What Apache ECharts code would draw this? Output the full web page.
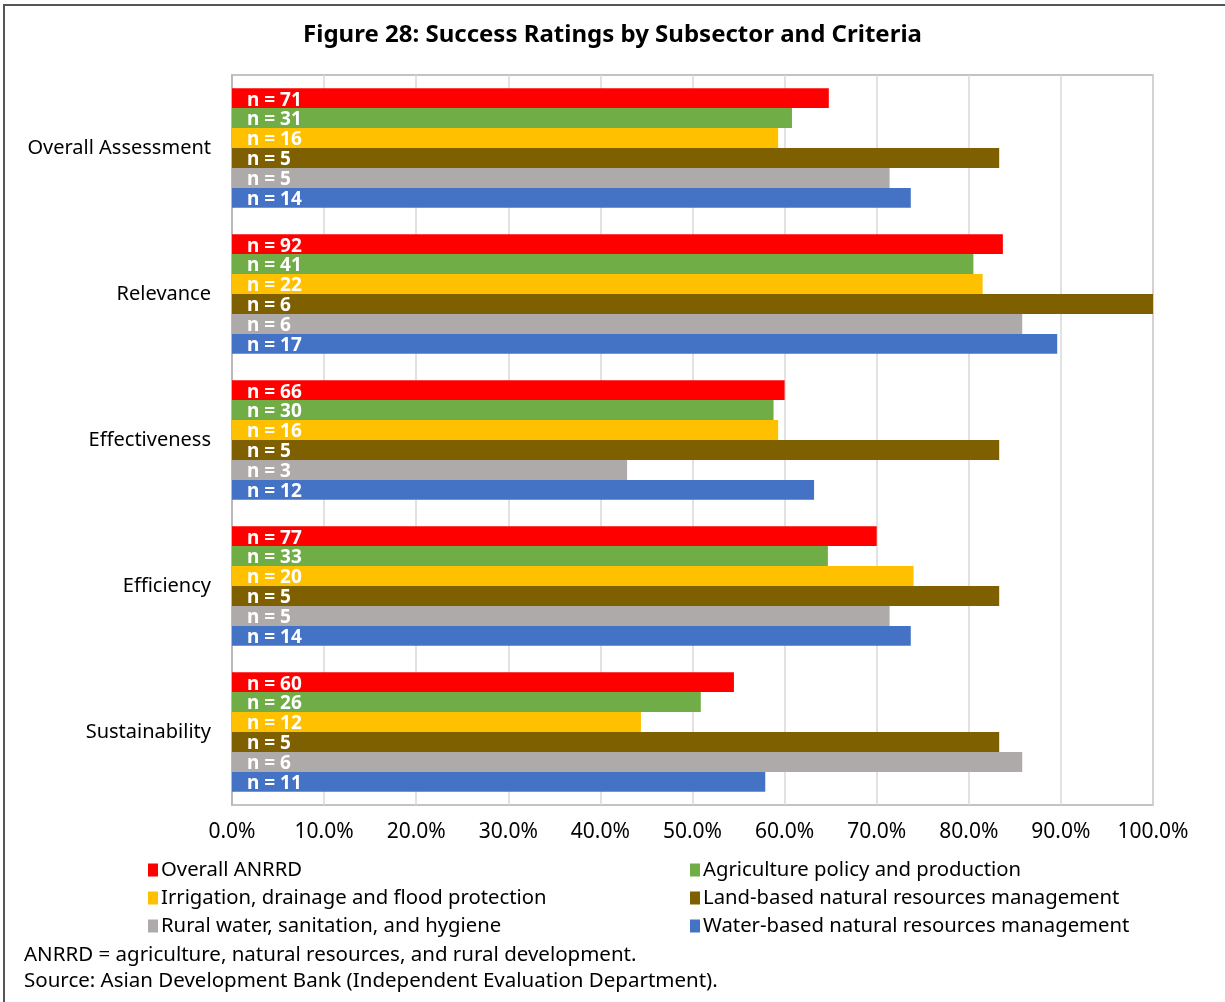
<!DOCTYPE html>
<html>
<head>
<meta charset="utf-8">
<script src="https://cdn.jsdelivr.net/npm/echarts@6/dist/echarts.min.js"></script>
<style>
  html, body { margin: 0; padding: 0; background: #fff; }
  #frame { position: absolute; left: 3px; top: 4px; width: 1222px; height: 998px;
           border-top: 2px solid #555; border-left: 2px solid #555; box-sizing: border-box; }
  #chart { position: absolute; left: 0; top: 0; width: 1225px; height: 1002px; }
</style>
</head>
<body>
<div id="frame"></div>
<div id="chart"></div>
<script>
// criteria (y axis, top to bottom)
const criteria = ["Overall Assessment", "Relevance", "Effectiveness", "Efficiency", "Sustainability"];

const seriesNames = [
  "Overall ANRRD",
  "Agriculture policy and production",
  "Irrigation, drainage and flood protection",
  "Land-based natural resources management",
  "Rural water, sanitation, and hygiene",
  "Water-based natural resources management"
];
const seriesColors = ["#FF0000", "#70AD47", "#FFC000", "#7F6000", "#AEAAAA", "#4472C4"];

// success rate (%) per criterion
const overallPct   = [64.8, 83.7, 60.0, 70.0, 54.5];
const agriPct      = [60.8, 80.5, 58.8, 64.7, 50.9];
const irrigPct     = [59.3, 81.5, 59.3, 74.0, 44.4];
const landPct      = [83.3, 100.0, 83.3, 83.3, 83.3];
const ruralPct     = [71.4, 85.8, 42.9, 71.4, 85.8];
const waterPct     = [73.7, 89.6, 63.2, 73.7, 57.9];

// number of projects rated
const overallN = [71, 92, 66, 77, 60];
const agriN    = [31, 41, 30, 33, 26];
const irrigN   = [16, 22, 16, 20, 12];
const landN    = [5, 6, 5, 5, 5];
const ruralN   = [5, 6, 3, 5, 6];
const waterN   = [14, 17, 12, 14, 11];

const pctList = [overallPct, agriPct, irrigPct, landPct, ruralPct, waterPct];
const nList = [overallN, agriN, irrigN, landN, ruralN, waterN];

const font = "'Noto Sans', 'Open Sans', sans-serif";

const chart = echarts.init(document.getElementById("chart"), null, { renderer: "canvas" });

const series = seriesNames.map((name, i) => ({
  name: name,
  type: "bar",
  data: pctList[i],
  barGap: "0%",
  barCategoryGap: "18%",
  itemStyle: { color: seriesColors[i] },
  label: {
    show: true,
    position: "insideLeft",
    distance: 15,
    color: "#fff",
    fontFamily: font,
    fontWeight: "bold",
    fontSize: 19,
    offset: [0, 2],
    formatter: (p) => "n = " + nList[i][p.dataIndex]
  }
}));

const legendText = { fontFamily: font, fontSize: 20.3, color: "#000", lineHeight: 19, padding: [0, 0, 0, -2] };

const option = {
  animation: false,
  textStyle: { fontFamily: font },
  title: {
    text: "Figure 28: Success Ratings by Subsector and Criteria",
    left: "center",
    top: 18,
    textStyle: { fontFamily: font, fontWeight: "bold", fontSize: 24, color: "#000" }
  },
  grid: {
    left: 232, right: 72, top: 75, bottom: 197,
    show: true, borderColor: "#b0b0b0", borderWidth: 1.5
  },
  xAxis: {
    type: "value",
    min: 0, max: 100, interval: 10,
    axisLine: { show: false },
    axisTick: { show: false },
    splitLine: { lineStyle: { color: "#d9d9d9", width: 1.5 } },
    axisLabel: {
      margin: 17,
      fontFamily: font, fontSize: 21, color: "#000",
      formatter: (v) => v.toFixed(1) + "%"
    }
  },
  yAxis: {
    type: "category",
    data: criteria,
    inverse: true,
    axisLine: { show: true, lineStyle: { color: "#b0b0b0", width: 1.5 } },
    axisTick: { show: false },
    axisLabel: { margin: 21, fontFamily: font, fontSize: 20, color: "#000" }
  },
  legend: [
    {
      orient: "vertical",
      left: 143, top: 855,
      icon: "rect", itemWidth: 10, itemHeight: 13, itemGap: 8,
      textStyle: legendText,
      data: [seriesNames[0], seriesNames[2], seriesNames[4]]
    },
    {
      orient: "vertical",
      left: 685, top: 855,
      icon: "rect", itemWidth: 10, itemHeight: 13, itemGap: 8,
      textStyle: legendText,
      data: [seriesNames[1], seriesNames[3], seriesNames[5]]
    }
  ],
  graphic: [
    {
      type: "text", left: 24, top: 945,
      style: { text: "ANRRD = agriculture, natural resources, and rural development.",
               font: "20.5px " + font, fill: "#000" }
    },
    {
      type: "text", left: 24, top: 971,
      style: { text: "Source: Asian Development Bank (Independent Evaluation Department).",
               font: "20.5px " + font, fill: "#000" }
    }
  ],
  series: series
};

chart.setOption(option);
</script>
</body>
</html>
